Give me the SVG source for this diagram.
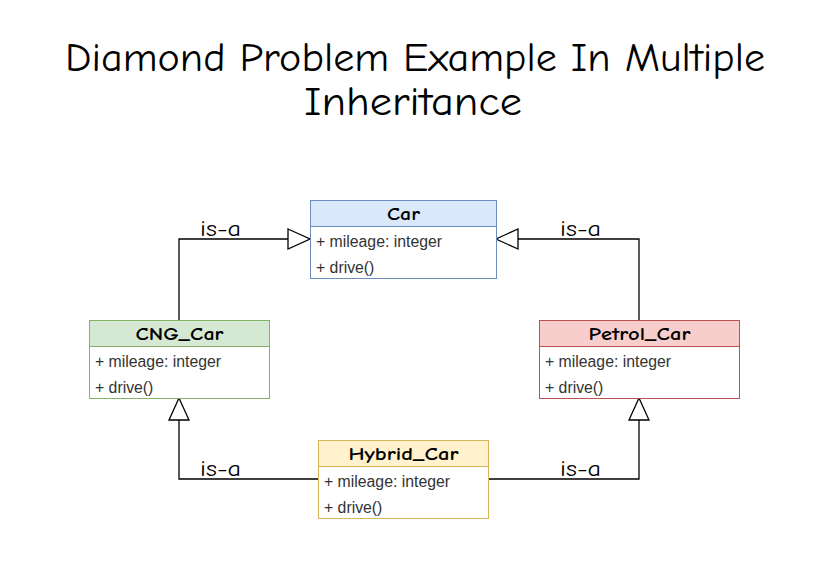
<svg xmlns="http://www.w3.org/2000/svg" width="827" height="583" viewBox="0 0 827 583">
<defs>
<style>
.title{font-family:"Comic Sans MS","Comic Neue","Liberation Sans",sans-serif;font-size:41px;fill:#000;text-anchor:middle}
.hdr{font-family:"Comic Sans MS","Comic Neue","Liberation Sans",sans-serif;font-size:19px;font-weight:bold;fill:#000;text-anchor:middle}
.row{font-family:"Liberation Sans",Arial,sans-serif;font-size:15.8px;fill:#333}
.lbl{font-family:"Comic Sans MS","Comic Neue","Liberation Sans",sans-serif;font-size:23px;fill:#000;text-anchor:middle}
.edge{fill:none;stroke:#000;stroke-width:1.3}
</style>
<marker id="tri" viewBox="0 0 24 22" refX="23" refY="11" markerWidth="24" markerHeight="22" markerUnits="userSpaceOnUse" orient="auto">
<path d="M1,1 L23,11 L1,21 Z" fill="#fff" stroke="#000" stroke-width="1.3"/>
</marker>
</defs>
<rect width="827" height="583" fill="#fff"/>
<text class="title" x="415" y="71" textLength="700" lengthAdjust="spacingAndGlyphs">Diamond Problem Example In Multiple</text>
<text class="title" x="413" y="115" textLength="218" lengthAdjust="spacingAndGlyphs">Inheritance</text>

<g id="connectors">
<path class="edge" d="M179,320 V239 H310" marker-end="url(#tri)"/>
<path class="edge" d="M639,320 V239 H496" marker-end="url(#tri)"/>
<path class="edge" d="M318,479 H179 V398" marker-end="url(#tri)"/>
<path class="edge" d="M488,479 H639 V398" marker-end="url(#tri)"/>
<text class="lbl" x="220.5" y="236" textLength="41" lengthAdjust="spacingAndGlyphs">is-a</text>
<text class="lbl" x="580.5" y="236" textLength="41" lengthAdjust="spacingAndGlyphs">is-a</text>
<text class="lbl" x="220.5" y="476" textLength="41" lengthAdjust="spacingAndGlyphs">is-a</text>
<text class="lbl" x="580.5" y="476" textLength="41" lengthAdjust="spacingAndGlyphs">is-a</text>
</g>

<g id="Car">
<rect x="310.5" y="200.5" width="186" height="78" fill="#fff" stroke="#6c8ebf"/>
<rect x="310.5" y="200.5" width="186" height="26" fill="#dae8fc" stroke="#6c8ebf"/>
<text class="hdr" x="403.5" y="220" textLength="33" lengthAdjust="spacingAndGlyphs">Car</text>
<text class="row" x="316" y="247">+ mileage: integer</text>
<text class="row" x="316" y="273">+ drive()</text>
</g>

<g id="CNG_Car">
<rect x="89.5" y="320.5" width="180" height="78" fill="#fff" stroke="#82b366"/>
<rect x="89.5" y="320.5" width="180" height="26" fill="#d5e8d4" stroke="#82b366"/>
<text class="hdr" x="179.5" y="340" textLength="88" lengthAdjust="spacingAndGlyphs">CNG_Car</text>
<text class="row" x="95" y="367">+ mileage: integer</text>
<text class="row" x="95" y="393">+ drive()</text>
</g>

<g id="Petrol_Car">
<rect x="539.5" y="320.5" width="200" height="78" fill="#fff" stroke="#b85450"/>
<rect x="539.5" y="320.5" width="200" height="26" fill="#f8cecc" stroke="#b85450"/>
<text class="hdr" x="639.5" y="340" textLength="102" lengthAdjust="spacingAndGlyphs">Petrol_Car</text>
<text class="row" x="545" y="367">+ mileage: integer</text>
<text class="row" x="545" y="393">+ drive()</text>
</g>

<g id="Hybrid_Car">
<rect x="318.5" y="440.5" width="170" height="78" fill="#fff" stroke="#d6b656"/>
<rect x="318.5" y="440.5" width="170" height="26" fill="#fff2cc" stroke="#d6b656"/>
<text class="hdr" x="403.5" y="460" textLength="110" lengthAdjust="spacingAndGlyphs">Hybrid_Car</text>
<text class="row" x="324" y="487">+ mileage: integer</text>
<text class="row" x="324" y="513">+ drive()</text>
</g>
</svg>
